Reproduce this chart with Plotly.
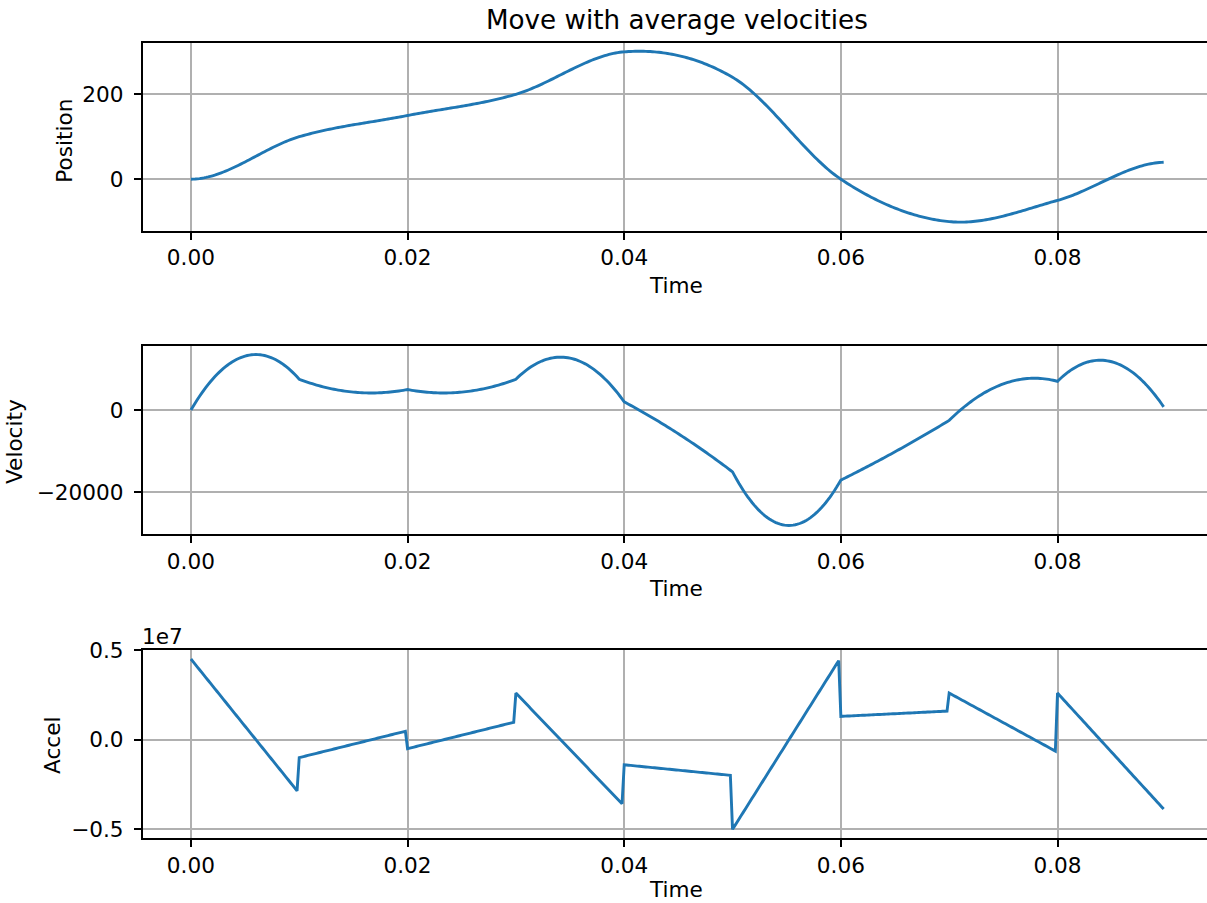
import numpy as np
import plotly.graph_objects as go

# ---- data (waypoints of the move) ----
waypoint_times = [0.00, 0.01, 0.02, 0.03, 0.04, 0.05, 0.06, 0.07, 0.08, 0.09]
waypoint_positions = [0, 100, 150, 200, 300, 240, 0, -100, -50, 40]
waypoint_velocities = [0, 7500, 5000, 7500, 2000, -15000, -17000, -2500, 7000, 0]
samples_per_segment = 50

x_tick_values = [0.00, 0.02, 0.04, 0.06, 0.08]
x_tick_labels = ["0.00", "0.02", "0.04", "0.06", "0.08"]
pos_tick_values = [0, 200]
pos_tick_labels = ["0", "200"]
vel_tick_values = [-20000, 0]
vel_tick_labels = ["\u221220000", "0"]
acc_tick_values = [-5e6, 0, 5e6]
acc_tick_labels = ["\u22120.5", "0.0", "0.5"]

# ---- cubic segments between the waypoints ----
t_all, p_all, v_all, a_all = [], [], [], []
for i in range(len(waypoint_times) - 1):
    t0, t1 = waypoint_times[i], waypoint_times[i + 1]
    p0, p1 = waypoint_positions[i], waypoint_positions[i + 1]
    v0, v1 = waypoint_velocities[i], waypoint_velocities[i + 1]
    T = t1 - t0
    c2 = (3 * (p1 - p0) - (2 * v0 + v1) * T) / T**2
    c3 = (2 * (p0 - p1) + (v0 + v1) * T) / T**3
    tau = np.arange(samples_per_segment) * T / samples_per_segment
    t_all.append(t0 + tau)
    p_all.append(p0 + v0 * tau + c2 * tau**2 + c3 * tau**3)
    v_all.append(v0 + 2 * c2 * tau + 3 * c3 * tau**2)
    a_all.append(2 * c2 + 6 * c3 * tau)
t = np.concatenate(t_all).tolist()
pos = np.concatenate(p_all).tolist()
vel = np.concatenate(v_all).tolist()
acc = np.concatenate(a_all).tolist()

W, H = 1207, 903
def fx(px):
    return px / W
def fy(py):
    return 1 - py / H

def padded(arr):
    lo, hi = float(np.min(arr)), float(np.max(arr))
    pad = 0.05 * (hi - lo)
    return [lo - pad, hi + pad]

LINE = "#1f77b4"
FONT = "DejaVu Sans"
FS = 21.6
GRID = "#b0b0b0"

fig = go.Figure()
for xa, ya, yv in [("x", "y", pos), ("x2", "y2", vel), ("x3", "y3", acc)]:
    fig.add_trace(go.Scatter(x=t, y=yv, mode="lines",
                             line=dict(color=LINE, width=2.9, simplify=False),
                             xaxis=xa, yaxis=ya, showlegend=False))

left = fx(142.7)
doms = [(230.7, 42.7), (534.0, 346.0), (838.3, 650.0)]
xrange_ = [-0.00445, 0.0938]

common_x = dict(range=xrange_, tickvals=x_tick_values, ticktext=x_tick_labels,
                showgrid=True, gridcolor=GRID, gridwidth=1.6, zeroline=False,
                showline=True, linecolor="black", linewidth=1.6, mirror=True,
                ticks="outside", ticklen=7, tickwidth=1.6, tickcolor="black",
                ticklabelstandoff=0, automargin=False,
                tickfont=dict(family=FONT, size=FS, color="black"))
common_y = dict(showgrid=True, gridcolor=GRID, gridwidth=1.6, zeroline=False,
                showline=True, linecolor="black", linewidth=1.6, mirror=False,
                ticks="outside", ticklen=7, tickwidth=1.6, tickcolor="black",
                ticklabelstandoff=6, automargin=False,
                tickfont=dict(family=FONT, size=FS, color="black"))

layout = dict(width=W, height=H, margin=dict(l=0, r=0, t=0, b=0, pad=0, autoexpand=False),
              paper_bgcolor="white", plot_bgcolor="white", showlegend=False)
names = ["", "2", "3"]
yranges = [padded(pos), padded(vel), [-5.5e6, 5.002e6]]
yticks = [(pos_tick_values, pos_tick_labels), (vel_tick_values, vel_tick_labels), (acc_tick_values, acc_tick_labels)]
for i, n in enumerate(names):
    b, tp = doms[i]
    layout["xaxis" + n] = dict(common_x, domain=[left, 1.0], anchor="y" + n)
    layout["yaxis" + n] = dict(common_y, domain=[fy(b), fy(tp)], anchor="x" + n,
                               range=yranges[i], tickvals=yticks[i][0], ticktext=yticks[i][1])
fig.update_layout(**layout)

ann = []
ann.append(dict(text="Move with average velocities", x=fx(677), y=fy(20.5), xref="paper", yref="paper",
                xanchor="center", yanchor="middle", showarrow=False, font=dict(family=FONT, size=26.2, color="black")))
for off in [0, 303.3]:
    ann.append(dict(text="Time", x=fx(676), y=fy(285.4 + off), xref="paper", yref="paper",
                    xanchor="center", yanchor="middle", showarrow=False, font=dict(family=FONT, size=FS, color="black")))
ann.append(dict(text="Time", x=fx(676), y=0, xref="paper", yref="paper", borderpad=0,
                xanchor="center", yanchor="bottom", showarrow=False, font=dict(family=FONT, size=FS, color="black")))
for txt, xc, yc in [("Position", 64.2, 140.5), ("Velocity", 14.5, 441.5), ("Accel", 52.4, 745.5)]:
    ann.append(dict(text=txt, x=fx(xc), y=fy(yc), xref="paper", yref="paper", textangle=-90,
                    xanchor="center", yanchor="middle", showarrow=False, font=dict(family=FONT, size=FS, color="black")))
ann.append(dict(text="1e7", x=fx(140), y=fy(636.4), xref="paper", yref="paper",
                xanchor="left", yanchor="middle", showarrow=False, font=dict(family=FONT, size=FS, color="black")))
fig.update_layout(annotations=ann)

fig.write_html("out.html")
